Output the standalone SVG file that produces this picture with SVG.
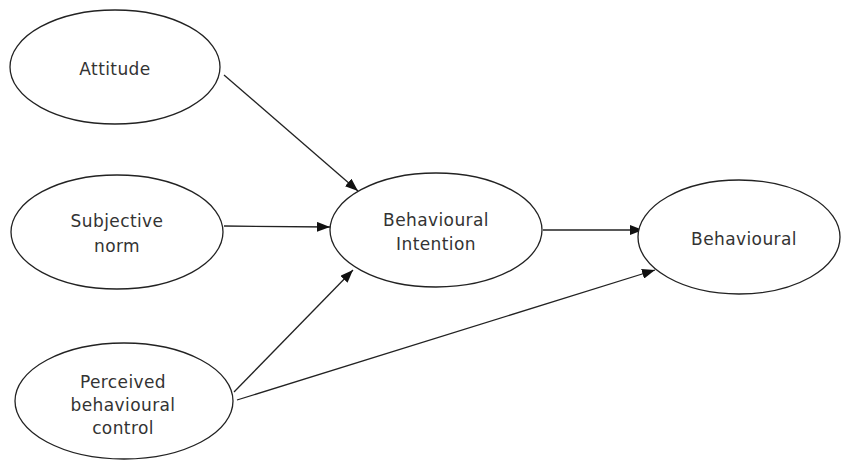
<svg xmlns="http://www.w3.org/2000/svg" width="841" height="461" viewBox="0 0 841 461">
<style>
.node ellipse{fill:#fff;stroke:#222;stroke-width:1.3}
.node text{font-family:"DejaVu Sans",sans-serif;font-size:17px;fill:#333;text-anchor:middle;letter-spacing:0.4px}
.edges line{stroke:#222;stroke-width:1.3;marker-end:url(#ah)}
</style>
<defs>
<marker id="ah" viewBox="0 0 13 10" refX="13" refY="5" markerWidth="13" markerHeight="10" markerUnits="userSpaceOnUse" orient="auto">
<path d="M0,0 L13,5 L0,10 z" fill="#111"/>
</marker>
</defs>
<rect width="841" height="461" fill="#fff"/>
<g class="edges">
<line x1="224" y1="75" x2="358" y2="191"/>
<line x1="224" y1="226" x2="330" y2="227"/>
<line x1="234" y1="392" x2="353" y2="270"/>
<line x1="237" y1="400" x2="655" y2="270"/>
<line x1="543" y1="230" x2="643" y2="230"/>
</g>
<g id="attitude" class="node">
<ellipse cx="115" cy="67" rx="105" ry="57"/>
<text x="115" y="75">Attitude</text>
</g>
<g id="subjective-norm" class="node">
<ellipse cx="117" cy="232" rx="106" ry="57"/>
<text x="117" y="227">Subjective</text>
<text x="117" y="252">norm</text>
</g>
<g id="perceived-behavioural-control" class="node">
<ellipse cx="124" cy="401" rx="109" ry="58"/>
<text x="123" y="388">Perceived</text>
<text x="123" y="411">behavioural</text>
<text x="123" y="434">control</text>
</g>
<g id="behavioural-intention" class="node">
<ellipse cx="436" cy="230" rx="106" ry="57"/>
<text x="436" y="226">Behavioural</text>
<text x="436" y="250">Intention</text>
</g>
<g id="behavioural" class="node">
<ellipse cx="739" cy="237" rx="101" ry="57"/>
<text x="744" y="245">Behavioural</text>
</g>
</svg>
